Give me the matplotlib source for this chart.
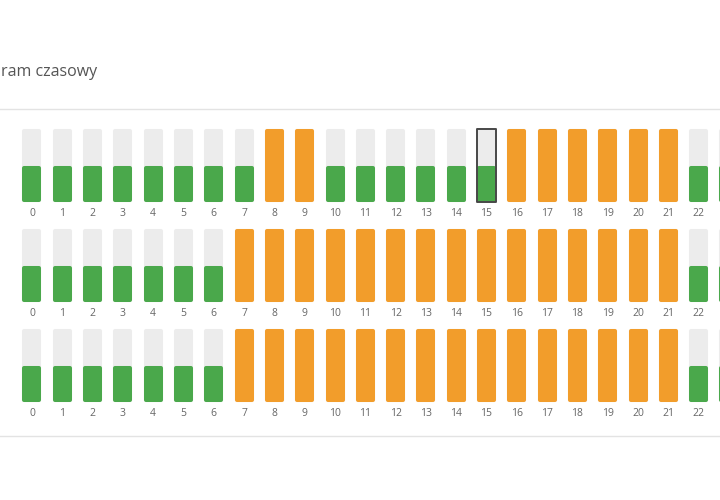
import matplotlib.pyplot as plt

# godziny i stan każdej godziny (0 = zielony / niski, 1 = pomarańczowy / pełny)
hours = list(range(24))
row_1 = [0, 0, 0, 0, 0, 0, 0, 0, 1, 1, 0, 0, 0, 0, 0, 0, 1, 1, 1, 1, 1, 1, 0, 0]
row_2 = [0, 0, 0, 0, 0, 0, 0, 1, 1, 1, 1, 1, 1, 1, 1, 1, 1, 1, 1, 1, 1, 1, 0, 0]
row_3 = [0, 0, 0, 0, 0, 0, 0, 1, 1, 1, 1, 1, 1, 1, 1, 1, 1, 1, 1, 1, 1, 1, 0, 0]
rows = [row_1, row_2, row_3]
selected_row, selected_hour = 0, 15
title = "ram czasowy"

GREEN = "#4aa84b"
ORANGE = "#f29d2b"
GREY = "#ececec"

fig = plt.figure(figsize=(7.2, 5), dpi=100, facecolor="white")
ax = fig.add_axes([0, 0, 1, 1])
ax.set_xlim(-1.056, 22.706)
ax.set_ylim(-2.98, 2.02)
ax.axis("off")

full_h = 0.69
low_h = 0.32
w = 0.495
lw = 2.9  # grubość krawędzi daje zaokrąglone rogi

x_right = ax.get_xlim()[1]
for r, row in enumerate(rows):
    base = -r + 0.02
    ax.bar(hours, full_h, bottom=base, width=w, color=GREY,
           edgecolor=GREY, linewidth=lw, joinstyle="round")
    heights = [full_h if v else low_h for v in row]
    colors = [ORANGE if v else GREEN for v in row]
    ax.bar(hours, heights, bottom=base, width=w, color=colors,
           edgecolor=colors, linewidth=lw, joinstyle="round")
    for h in hours:
        if h + 0.4 > x_right:
            continue  # etykieta poza kadrem
        ax.text(h, -r - 0.11, str(h), ha="center", va="center",
                fontsize=7.5, color="#666666", family="Open Sans")

# zaznaczona godzina
ax.bar(selected_hour, 0.735, bottom=-selected_row - 0.003, width=0.6,
       color="none", edgecolor="#484848", linewidth=1.4, joinstyle="round")

# nagłówek i linie oddzielające
ax.text(-1.02, 1.30, title, ha="left", va="center", fontsize=11.5,
        color="#555555", family="Open Sans")
ax.axhline(0.93, color="#e3e3e3", lw=1)
ax.axhline(-2.34, color="#e3e3e3", lw=1)

fig.savefig("out.png", dpi=100)
